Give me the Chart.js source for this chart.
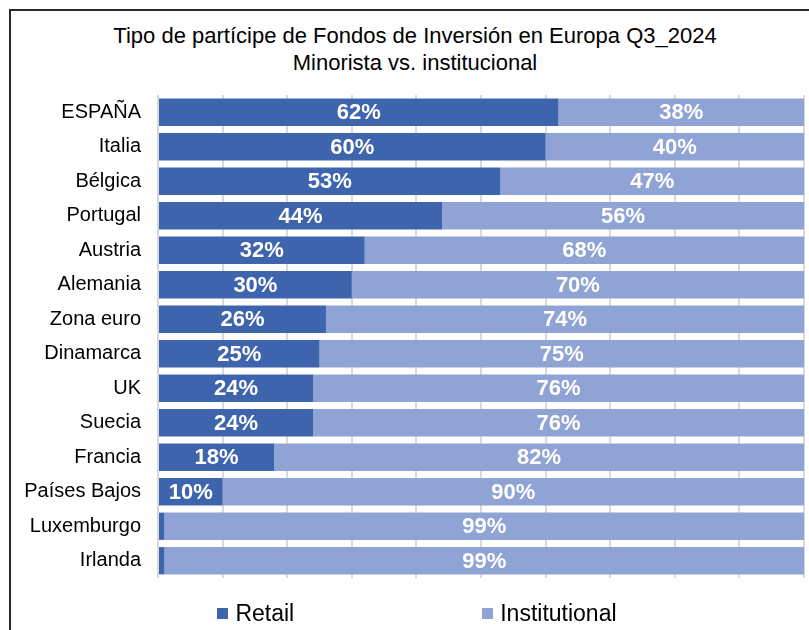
<!DOCTYPE html>
<html>
<head>
<meta charset="utf-8">
<script src="https://cdn.jsdelivr.net/npm/chart.js@4.4.1/dist/chart.umd.min.js"></script>
<style>
  html, body { margin: 0; padding: 0; background: #fff; overflow: hidden; }
  body { width: 809px; height: 630px; position: relative; font-family: "Liberation Sans", Arial, sans-serif; }
  #frame {
    position: absolute; left: 9px; top: 9px;
    width: 840px; height: 660px;
    border: 2px solid #2b2b2b;
    background: #fff;
  }
  #title {
    position: absolute; left: 0; top: 11px; width: 808px;
    text-align: center; font-size: 22px; line-height: 27px; color: #000;
  }
  #wrap { position: absolute; left: 0; top: 0; width: 812px; height: 594px; }
  #legend {
    position: absolute; left: 0; top: 587px; width: 812px; height: 30px;
    display: flex; justify-content: center; align-items: center; gap: 188px;
    font-size: 23px; color: #000;
  }
  #legend .item { display: flex; align-items: center; }
  #legend .box { width: 11px; height: 11px; margin-right: 7px; }
</style>
</head>
<body>
<div id="frame">
  <div id="title"></div>
  <div id="wrap"><canvas id="chart"></canvas></div>
  <div id="legend"></div>
</div>
<script>
const titleLines = ["Tipo de partícipe de Fondos de Inversión en Europa Q3_2024", "Minorista vs. institucional"];
const countries = ["ESPAÑA", "Italia", "Bélgica", "Portugal", "Austria", "Alemania", "Zona euro",
    "Dinamarca", "UK", "Suecia", "Francia", "Países Bajos", "Luxemburgo", "Irlanda"];
const retail = [62, 60, 53, 44, 32, 30, 26, 25, 24, 24, 18, 10, 1, 1];
const institutional = [38, 40, 47, 56, 68, 70, 74, 75, 76, 76, 82, 90, 99, 99];
const seriesNames = ["Retail", "Institutional"];
const seriesColors = ["#3e64ad", "#8fa3d4"];

// white % labels in the middle of each segment
const barLabels = {
    id: "barLabels",
    afterDatasetsDraw(chart) {
        const ctx = chart.ctx;
        ctx.save();
        ctx.fillStyle = "#fff";
        ctx.font = "bold 22px 'Liberation Sans', Arial, sans-serif";
        ctx.textAlign = "center";
        ctx.textBaseline = "middle";
        chart.data.datasets.forEach((ds, i) => {
            chart.getDatasetMeta(i).data.forEach((bar, j) => {
                const v = ds.data[j];
                if (v < 5) return;
                ctx.fillText(v + "%", (bar.x + bar.base) / 2, bar.y + 1);
            });
        });
        ctx.restore();
    }
};

document.getElementById("title").innerHTML = titleLines.join("<br>");

const ctx = document.getElementById("chart").getContext("2d");
const chart = new Chart(ctx, {
    type: "bar",
    data: {
        labels: countries,
        datasets: [
            { label: seriesNames[0], data: retail, backgroundColor: seriesColors[0] },
            { label: seriesNames[1], data: institutional, backgroundColor: seriesColors[1] }
        ]
    },
    options: {
        indexAxis: "y",
        responsive: true,
        maintainAspectRatio: false,
        animation: false,
        datasets: { bar: { categoryPercentage: 1, barPercentage: 0.79 } },
        layout: { padding: { left: 0, right: 19, top: 84, bottom: 27 } },
        scales: {
            x: {
                stacked: true, min: 0, max: 100,
                ticks: { display: false, stepSize: 10 },
                grid: { color: "#d9d9d9", lineWidth: 2, drawTicks: false },
                border: { display: false }
            },
            y: {
                stacked: true,
                grid: { display: false },
                border: { display: false },
                ticks: {
                    color: "#000", padding: 9,
                    font: { family: "'Liberation Sans', Arial, sans-serif", size: 20 }
                },
                afterFit(scale) { scale.width = 147; }
            }
        },
        plugins: {
            legend: { display: false },
            tooltip: { enabled: false },
            title: { display: false }
        }
    },
    plugins: [barLabels]
});

document.getElementById("legend").innerHTML = seriesNames.map((name, i) =>
    `<div class="item"><span class="box" style="background:${seriesColors[i]}"></span>${name}</div>`).join("");
</script>
</body>
</html>
